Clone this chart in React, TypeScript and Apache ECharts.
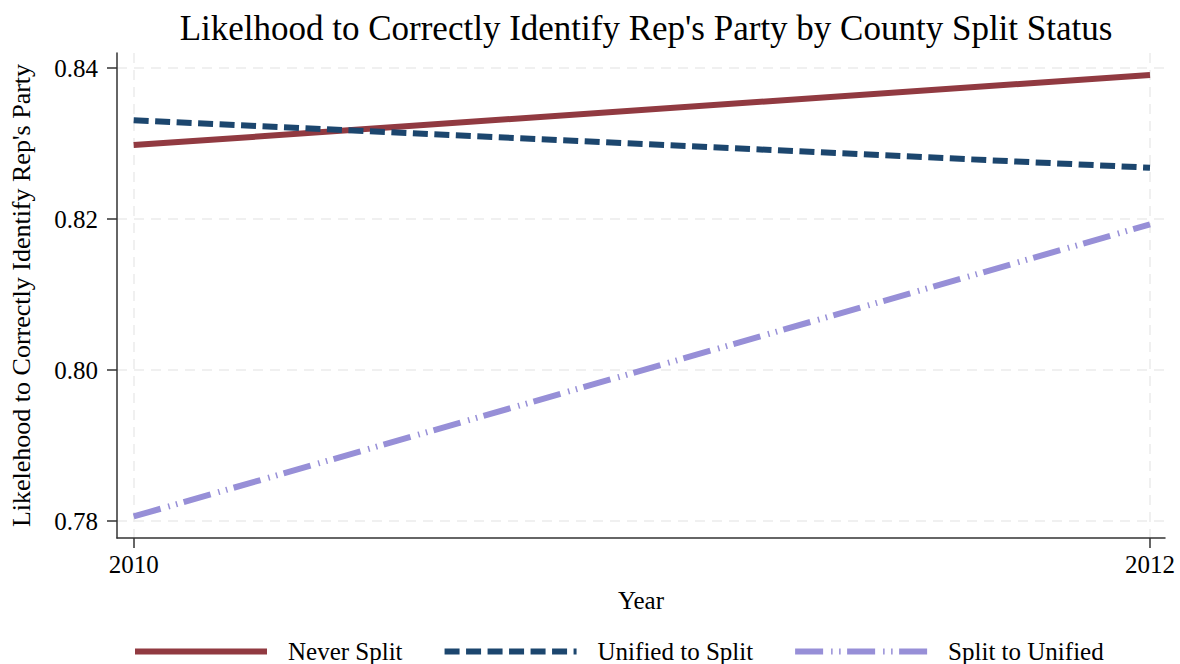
import React, { useEffect, useRef } from "react";
import * as echarts from "echarts";

const years = [2010, 2012];
const neverSplit = [0.8298, 0.8391];
const unifiedToSplit = [0.8331, 0.8268];
const splitToUnified = [0.7806, 0.8193];
const yTicks = [0.78, 0.8, 0.82, 0.84];
const xTicks = [2010, 2012];

const FONT = "Liberation Serif";

export default function App() {
  const ref = useRef<HTMLDivElement>(null);
  useEffect(() => {
    if (!ref.current) return;
    const chart = echarts.init(ref.current, null, { renderer: "svg" });
    const pair = (vals: number[]) => years.map((y, i) => [y, vals[i]]);
    chart.setOption({
      animation: false,
      backgroundColor: "#ffffff",
      textStyle: { fontFamily: FONT },
      title: {
        text: "Likelhood to Correctly Identify Rep's Party by County Split Status",
        left: 641,
        textAlign: "center",
        top: 6,
        textStyle: { fontFamily: FONT, fontSize: 35, fontWeight: "normal", color: "#000" },
      },
      grid: { left: 116, right: 15, top: 53, bottom: 126, containLabel: false },
      xAxis: {
        type: "value",
        min: 2010 - 0.0328,
        max: 2012 + 0.0295,
        name: "Year",
        nameLocation: "middle",
        nameGap: 50,
        nameTextStyle: { fontFamily: FONT, fontSize: 25, color: "#000" },
        axisLine: { lineStyle: { color: "#333", width: 1.5 } },
        axisTick: { show: true, length: 10, customValues: xTicks, lineStyle: { color: "#333", width: 1.5 } },
        axisLabel: {
          customValues: xTicks,
          margin: 14,
          fontFamily: FONT,
          fontSize: 25,
          color: "#000",
          formatter: (v: number) => String(Math.round(v)),
        },
        splitLine: { show: true, lineStyle: { color: "#ebebeb", width: 1.5, type: [10, 7] } },
      },
      yAxis: {
        type: "value",
        min: 0.77775,
        max: 0.842,
        name: "Likelehood to Correctly Identify Rep's Party",
        nameLocation: "middle",
        nameGap: 83,
        nameTextStyle: { fontFamily: FONT, fontSize: 26, color: "#000" },
        axisLine: { show: true, lineStyle: { color: "#333", width: 1.5 } },
        axisTick: { show: true, length: 10, customValues: yTicks, lineStyle: { color: "#333", width: 1.5 } },
        axisLabel: {
          customValues: yTicks,
          margin: 19,
          fontFamily: FONT,
          fontSize: 25,
          color: "#000",
          formatter: (v: number) => v.toFixed(2),
        },
        splitLine: { show: true, lineStyle: { color: "#ebebeb", width: 1.5, type: [10, 7] } },
      },
      legend: {
        top: 634,
        left: 127,
        itemWidth: 132,
        itemHeight: 24,
        itemGap: 39,
        itemStyle: { color: "transparent", borderColor: "transparent", borderWidth: 0, opacity: 0 },
        lineStyle: { width: 6 },
        textStyle: { fontFamily: FONT, fontSize: 25, color: "#000", padding: [0, 0, 0, 16] },
        data: ["Never Split", "Unified to Split", "Split to Unified"],
      },
      series: [
        {
          name: "Never Split",
          type: "line",
          symbol: "none",
          data: pair(neverSplit),
          lineStyle: { color: "#913a41", width: 6, cap: "butt" },
          itemStyle: { color: "#913a41" },
        },
        {
          name: "Unified to Split",
          type: "line",
          symbol: "none",
          data: pair(unifiedToSplit),
          lineStyle: { color: "#1c466e", width: 6, type: [15, 6.5], cap: "butt" },
          itemStyle: { color: "#1c466e" },
        },
        {
          name: "Split to Unified",
          type: "line",
          symbol: "none",
          data: pair(splitToUnified),
          lineStyle: { color: "#978fd7", width: 6, type: [28, 8, 1.5, 6.5, 1.5, 6.5], cap: "butt" },
          itemStyle: { color: "#978fd7" },
        },
      ],
    });
    return () => chart.dispose();
  }, []);
  return <div ref={ref} style={{ width: 1180, height: 664, position: "absolute", left: 0, top: 0 }} />;
}
